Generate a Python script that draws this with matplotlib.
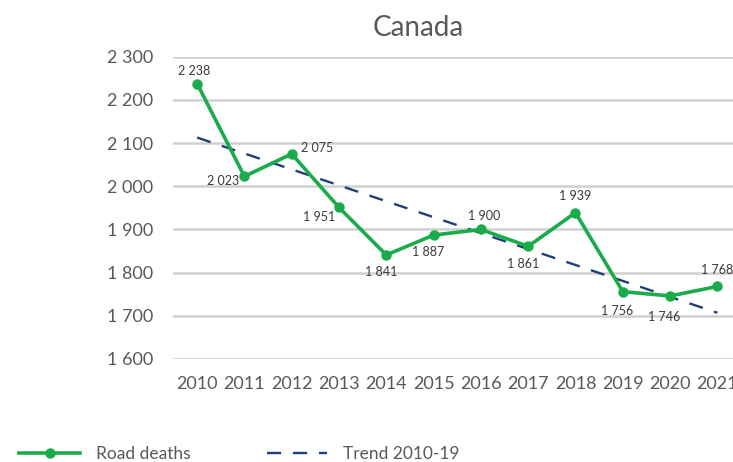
import numpy as np
import matplotlib.pyplot as plt
from matplotlib.ticker import FuncFormatter

years = [2010, 2011, 2012, 2013, 2014, 2015, 2016, 2017, 2018, 2019, 2020, 2021]
deaths = [2238, 2023, 2075, 1951, 1841, 1887, 1900, 1861, 1939, 1756, 1746, 1768]
trend_years = [2010, 2021]
trend_values = [2113, 1707]

# label offsets (points) for each data label
offsets = [(-2, 9), (-15, -3), (18, 4), (-14, -7), (-4, -12), (-4, -12),
           (2, 10), (-4, -13), (0, 12), (-4, -14), (-4, -15), (0, 12)]

green = '#1aab4b'
navy = '#1f3f78'
grey = '#595959'

plt.rcParams['font.family'] = ['Lato', 'DejaVu Sans']

fig = plt.figure(figsize=(7.33, 4.62), dpi=100)
ax = fig.add_axes([0.236, 0.223, 0.764, 0.654])

for y in range(1600, 2301, 100):
    ax.axhline(y, color='#d0d0d0', lw=1.8, zorder=0)

ax.plot(years, deaths, color=green, lw=2.6, marker='o', ms=6.5, label='Road deaths', zorder=3)
ax.plot(trend_years, trend_values, color=navy, lw=1.7, dashes=(6, 5), label='Trend 2010-19', zorder=2)

fmt = lambda v: f"{int(v):,}".replace(',', ' ')
for x, y, (dx, dy) in zip(years, deaths, offsets):
    ax.annotate(fmt(y), (x, y), xytext=(dx, dy), textcoords='offset points',
                ha='center', va='center', fontsize=9, color='#3a3a3a')

ax.set_xlim(2009.49, 2021.33)
ax.set_ylim(1600, 2300)
ax.set_yticks(range(1600, 2301, 100))
ax.set_xticks(years)
ax.yaxis.set_major_formatter(FuncFormatter(lambda v, p: fmt(v)))
ax.tick_params(length=0, labelsize=13, colors=grey, pad=14)
ax.tick_params(axis='x', pad=12)
for s in ax.spines.values():
    s.set_visible(False)

fig.text(0.57, 0.94, 'Canada', ha='center', va='center', fontsize=20, color=grey)

fig.legend(loc='center left', bbox_to_anchor=(0.005, 0.018), ncol=2, frameon=False,
           fontsize=12.5, handlelength=3.5, columnspacing=4.4, labelcolor=grey, handletextpad=0.9)

fig.savefig('out.png', dpi=100)
